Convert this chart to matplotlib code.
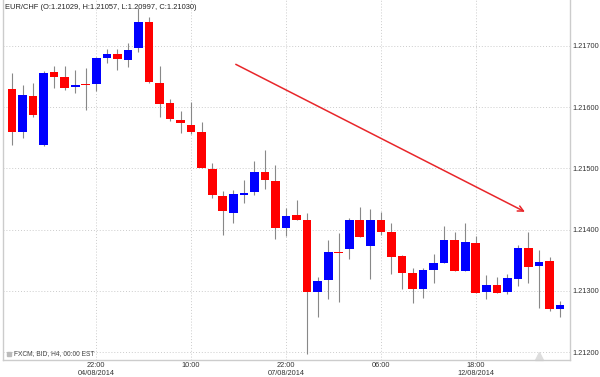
import numpy as np
import matplotlib
matplotlib.use('Agg')
import matplotlib.pyplot as plt

plt.rcParams['font.family'] = ['Liberation Sans', 'DejaVu Sans']

# EUR/CHF H4 candles
opens = [1.21630, 1.21559, 1.21618, 1.21538, 1.21658, 1.21649, 1.21633, 1.21638, 1.21638, 1.21680,
         1.21687, 1.21677, 1.21697, 1.21739, 1.21640, 1.21607, 1.21579, 1.21571, 1.21559, 1.21499,
         1.21455, 1.21427, 1.21457, 1.21461, 1.21494, 1.21479, 1.21403, 1.21424, 1.21416, 1.21298,
         1.21318, 1.21363, 1.21368, 1.21416, 1.21373, 1.21416, 1.21396, 1.21357, 1.21329, 1.21303,
         1.21334, 1.21345, 1.21383, 1.21332, 1.21378, 1.21298, 1.21310, 1.21298, 1.21319, 1.21370,
         1.21341, 1.21349, 1.21270]
highs = [1.21656, 1.21636, 1.21640, 1.21659, 1.21667, 1.21667, 1.21661, 1.21664, 1.21682, 1.21695,
         1.21695, 1.21705, 1.21762, 1.21747, 1.21667, 1.21613, 1.21594, 1.21608, 1.21576, 1.21509,
         1.21463, 1.21465, 1.21481, 1.21512, 1.21530, 1.21506, 1.21435, 1.21448, 1.21427, 1.21323,
         1.21383, 1.21394, 1.21419, 1.21437, 1.21434, 1.21429, 1.21411, 1.21358, 1.21337, 1.21337,
         1.21360, 1.21406, 1.21396, 1.21411, 1.21390, 1.21326, 1.21323, 1.21327, 1.21375, 1.21396,
         1.21367, 1.21355, 1.21283]
lows = [1.21538, 1.21550, 1.21584, 1.21537, 1.21631, 1.21628, 1.21623, 1.21595, 1.21626, 1.21672,
        1.21661, 1.21666, 1.21690, 1.21640, 1.21584, 1.21577, 1.21558, 1.21556, 1.21501, 1.21452,
        1.21391, 1.21411, 1.21443, 1.21457, 1.21466, 1.21385, 1.21390, 1.21416, 1.21197, 1.21257,
        1.21287, 1.21282, 1.21352, 1.21388, 1.21319, 1.21391, 1.21327, 1.21303, 1.21280, 1.21288,
        1.21313, 1.21345, 1.21332, 1.21332, 1.21296, 1.21287, 1.21296, 1.21295, 1.21308, 1.21313,
        1.21272, 1.21267, 1.21257]
closes = [1.21559, 1.21620, 1.21587, 1.21656, 1.21649, 1.21631, 1.21636, 1.21636, 1.21680, 1.21687,
          1.21679, 1.21693, 1.21739, 1.21641, 1.21605, 1.21581, 1.21574, 1.21559, 1.21501, 1.21457,
          1.21430, 1.21458, 1.21460, 1.21494, 1.21481, 1.21403, 1.21422, 1.21416, 1.21298, 1.21316,
          1.21363, 1.21361, 1.21416, 1.21388, 1.21416, 1.21396, 1.21355, 1.21329, 1.21303, 1.21334,
          1.21345, 1.21383, 1.21332, 1.21380, 1.21296, 1.21310, 1.21296, 1.21321, 1.21370, 1.21339,
          1.21347, 1.21270, 1.21277]

xtick_pos = [8, 17, 26, 35, 44]
xtick_labels = ['22:00\n04/08/2014', '10:00', '22:00\n07/08/2014', '06:00', '18:00\n12/08/2014']
yticks = [1.212, 1.213, 1.214, 1.215, 1.216, 1.217]

# trend arrow (candle index, price)
arrow_start = (21.0, 1.21672)
arrow_end = (48.9, 1.21427)

o = np.array(opens)
h = np.array(highs)
l = np.array(lows)
c = np.array(closes)
x = np.arange(len(o))
up = c >= o
colors = np.where(up, '#0000ff', '#ff0000')

fig = plt.figure(figsize=(6, 3.77), dpi=100)
ax = fig.add_axes([0.005, 0.045, 0.945, 0.955])

ax.vlines(x, l, h, color='#888888', lw=0.8, zorder=2)
body_bot = np.minimum(o, c)
body_h = np.maximum(np.abs(c - o), 0.000025)
ax.bar(x, body_h, bottom=body_bot, width=0.82, color=colors, zorder=3)

ax.annotate('', xy=arrow_end, xytext=arrow_start,
            arrowprops=dict(arrowstyle='->', color='#e8262a', lw=1.1))

ax.set_xlim(-0.85, 52.94)
ax.set_ylim(1.21187, 1.21775)

ax.set_yticks(yticks)
ax.set_yticklabels(['%.5f' % v for v in yticks])
ax.yaxis.tick_right()
ax.set_xticks(xtick_pos)
ax.set_xticklabels(xtick_labels, linespacing=1.15)
ax.tick_params(length=0, labelsize=5.3, colors='#333333')
ax.tick_params(axis='y', pad=2)
ax.tick_params(axis='x', pad=1.5)
ax.grid(True, ls=(0, (1, 2)), color='#cccccc', lw=0.7)
ax.set_axisbelow(True)

ax.spines['top'].set_visible(False)
for s in ['left', 'right', 'bottom']:
    ax.spines[s].set_color('#cccccc')
    ax.spines[s].set_linewidth(1.0)

ax.text(0.003, 0.988, 'EUR/CHF (O:1.21029, H:1.21057, L:1.20997, C:1.21030)',
        transform=ax.transAxes, fontsize=5.4, color='#222222', va='top', ha='left')
ax.text(0.02, 0.008, 'FXCM, BID, H4, 00:00 EST', transform=ax.transAxes,
        fontsize=4.8, color='#444444', va='bottom', ha='left')
ax.plot([0.011], [0.017], marker='s', ms=3, color='#bbbbbb', transform=ax.transAxes)
ax.plot([0.945], [0.012], marker='^', ms=6, color='#dddddd', transform=ax.transAxes, clip_on=False)

fig.savefig('out.png', dpi=100)
